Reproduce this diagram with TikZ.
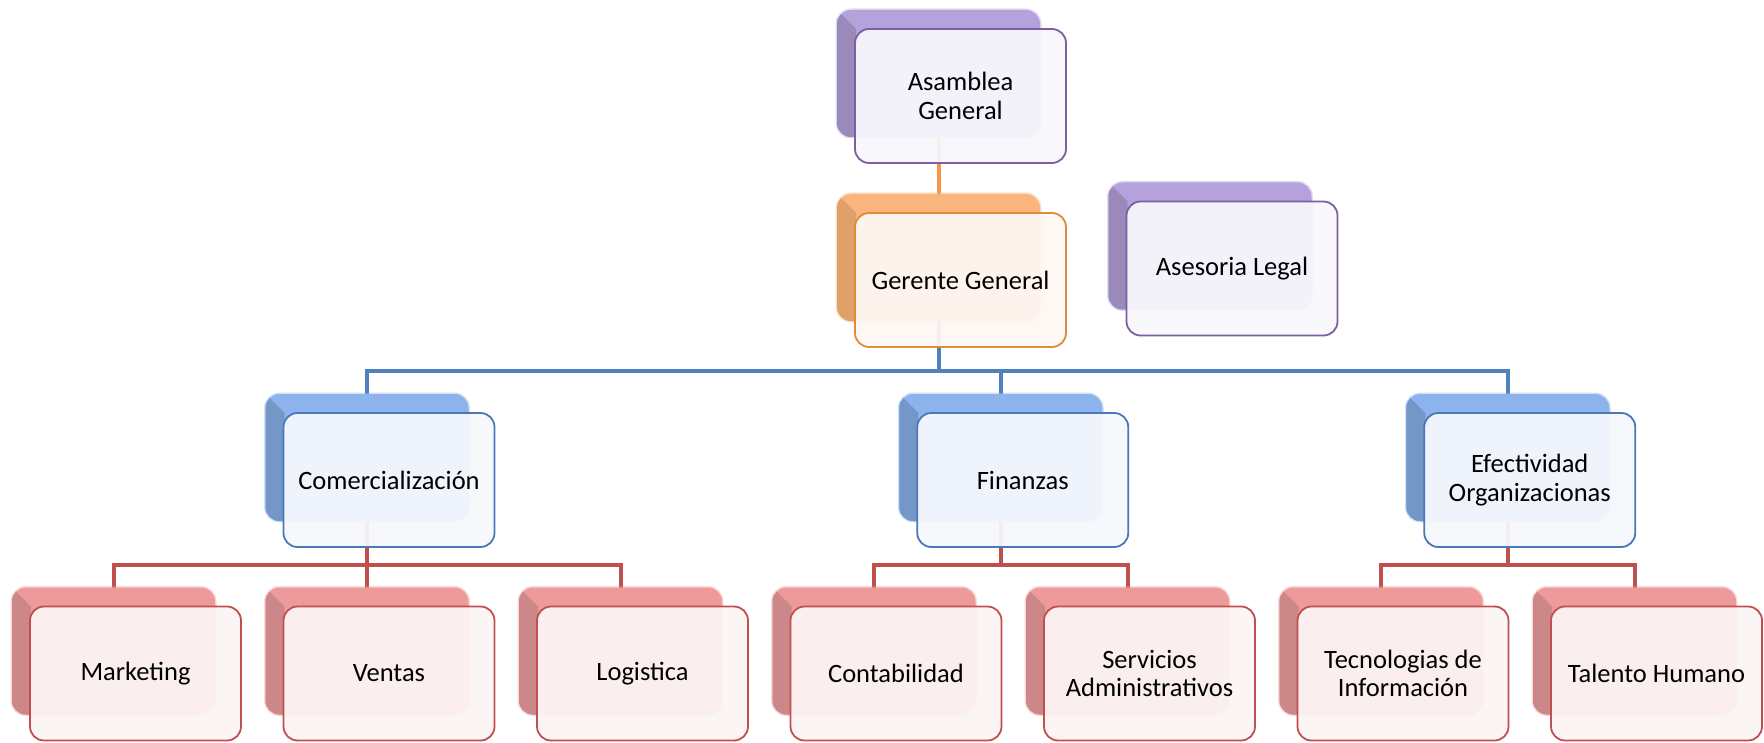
\documentclass[tikz,border=0pt]{standalone}
\usepackage{fontspec}
\setmainfont{Carlito}
\usetikzlibrary{calc}
\pgfdeclarelayer{bg}
\pgfsetlayers{bg,main}
\definecolor{purL}{HTML}{B3A2DC}\definecolor{purD}{HTML}{9A8ABA}\definecolor{purF}{HTML}{F8F6FC}\definecolor{purE}{HTML}{7B5FA0}
\definecolor{orgL}{HTML}{F9B57D}\definecolor{orgD}{HTML}{E0A06A}\definecolor{orgF}{HTML}{FFF7F3}\definecolor{orgE}{HTML}{DE8C38}
\definecolor{bluL}{HTML}{8DB3EC}\definecolor{bluD}{HTML}{7597C8}\definecolor{bluF}{HTML}{F6F8FC}\definecolor{bluE}{HTML}{4A78B8}
\definecolor{redL}{HTML}{EE9A9A}\definecolor{redD}{HTML}{CC8888}\definecolor{redF}{HTML}{FCF4F5}\definecolor{redE}{HTML}{C04F4F}
\definecolor{lineO}{HTML}{F79646}\definecolor{lineB}{HTML}{4F81BD}\definecolor{lineR}{HTML}{C0504D}
\newcommand{\orgbox}[5]{%
  \node[backbox, fill=#4L, draw=#4L, draw opacity=0.4, line width=3pt] (#1B) at (#2,#3) {};
  \begin{scope}
    \clip[rounded corners=14pt] (#1B.south west) rectangle (#1B.north east);
    \fill[#4D] (#1B.north west) -- ++(19,19) -- ([xshift=19pt]#1B.south west) -- (#1B.south west) -- cycle;
  \end{scope}
  \node[frontbox, draw=#4E, fill=#4F] (#1) at ($(#1B)+(22,22.5)$) {#5};
}
\begin{document}
\begin{tikzpicture}[x=1pt,y=-1pt,
  backbox/.style={rectangle, rounded corners=14pt, minimum width=203pt, minimum height=127pt, inner sep=0pt, outer sep=0pt},
  frontbox/.style={rectangle, rounded corners=14pt, minimum width=211pt, minimum height=134pt, inner sep=0pt, outer sep=0pt,
    line width=1.8pt, fill opacity=0.94, text opacity=1, align=center, font=\fontsize{26.5}{28.5}\selectfont},
  conn/.style={line width=4pt, line join=miter}]
\useasboundingbox (0,0) rectangle (1764,743);
\orgbox{asa}{938.5}{73.5}{pur}{Asamblea\\General}
\orgbox{ger}{938.5}{257.5}{org}{Gerente General}
\orgbox{ase}{1210}{246}{pur}{Asesoria Legal}
\orgbox{com}{367}{457.5}{blu}{Comercialización}
\orgbox{fin}{1000.75}{457.5}{blu}{Finanzas}
\orgbox{efe}{1507.75}{457.5}{blu}{Efectividad\\Organizacionas}
\orgbox{mkt}{113.5}{651}{red}{Marketing}
\orgbox{ven}{367}{651}{red}{Ventas}
\orgbox{log}{620.5}{651}{red}{Logistica}
\orgbox{con}{874}{651}{red}{Contabilidad}
\orgbox{ser}{1127.5}{651}{red}{Servicios\\Administrativos}
\orgbox{tec}{1381}{651}{red}{Tecnologias de\\Información}
\orgbox{tal}{1634.5}{651}{red}{Talento Humano}
\coordinate (busB) at (0,371);
\coordinate (busR) at (0,565);
\begin{pgfonlayer}{bg}
  \draw[conn, lineO] (asaB.south) -- (gerB.north);
  \draw[conn, lineB] (gerB.south) -- (gerB.south |- busB) -| (comB.north);
  \draw[conn, lineB] (gerB.south |- busB) -| (efeB.north);
  \draw[conn, lineB] (finB.north |- busB) -- (finB.north);
  \draw[conn, lineR] (comB.south) -- (venB.north);
  \draw[conn, lineR] (mktB.north) |- (comB.south |- busR) -| (logB.north);
  \draw[conn, lineR] (finB.south) -- (finB.south |- busR);
  \draw[conn, lineR] (conB.north) |- (finB.south |- busR) -| (serB.north);
  \draw[conn, lineR] (efeB.south) -- (efeB.south |- busR);
  \draw[conn, lineR] (tecB.north) |- (efeB.south |- busR) -| (talB.north);
\end{pgfonlayer}
\end{tikzpicture}
\end{document}
